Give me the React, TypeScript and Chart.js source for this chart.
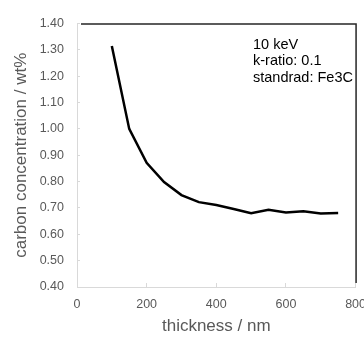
import React, { useEffect, useRef } from "react";
import { Chart, registerables } from "chart.js";

Chart.register(...registerables);

const thickness = [100, 150, 200, 250, 300, 350, 400, 450, 500, 550, 600, 650, 700, 750];
const carbon = [1.315, 1.0, 0.871, 0.798, 0.749, 0.722, 0.711, 0.696, 0.68, 0.693, 0.683, 0.687, 0.679, 0.681];
const annotationLines = ["10 keV", "k-ratio: 0.1", "standrad: Fe3C"];
const xTitle = "thickness / nm";
const yTitle = "carbon concentration / wt%";

const FONT = "'Liberation Sans', Arial, sans-serif";

const framePlugin = {
  id: "frameAndNotes",
  afterDraw(chart: any) {
    const { ctx, chartArea } = chart;
    const { left, right, top, bottom } = chartArea;
    ctx.save();
    ctx.strokeStyle = "#262626";
    ctx.lineWidth = 1.5;
    ctx.beginPath();
    ctx.moveTo(left + 4, top + 0.5);
    ctx.lineTo(right + 0.5, top + 0.5);
    ctx.lineTo(right + 0.5, bottom - 4);
    ctx.stroke();
    ctx.fillStyle = "#000";
    ctx.font = `14.5px ${FONT}`;
    ctx.textAlign = "left";
    ctx.textBaseline = "alphabetic";
    annotationLines.forEach((t, i) => {
      ctx.fillText(t, left + 176, top + 25 + i * 16.7);
    });
    ctx.restore();
  },
};

export default function App() {
  const ref = useRef<HTMLCanvasElement>(null);
  useEffect(() => {
    document.body.style.margin = "0";
    const chart = new Chart(ref.current as HTMLCanvasElement, {
      type: "line",
      data: {
        datasets: [
          {
            data: thickness.map((x, i) => ({ x, y: carbon[i] })),
            borderColor: "#000",
            borderWidth: 2.5,
            pointRadius: 0,
            tension: 0,
            fill: false,
          },
        ],
      },
      options: {
        animation: false,
        responsive: false,
        devicePixelRatio: 1,
        layout: { padding: { top: 14, right: 23, bottom: 0, left: 0 } },
        plugins: { legend: { display: false }, tooltip: { enabled: false } },
        scales: {
          x: {
            type: "linear",
            min: 0,
            max: 800,
            afterFit: (s: any) => {
              s.height = 50;
            },
            border: { color: "#d9d9d9", width: 1 },
            grid: { drawOnChartArea: false, drawTicks: true, tickLength: -4, color: "#d9d9d9" },
            ticks: {
              stepSize: 200,
              padding: 14,
              color: "#595959",
              font: { family: FONT, size: 12.5 },
              maxRotation: 0,
            },
            title: {
              display: true,
              text: xTitle,
              color: "#595959",
              font: { family: FONT, size: 17 },
              padding: { top: 0, bottom: 0 },
            },
          },
          y: {
            type: "linear",
            min: 0.4,
            max: 1.4,
            afterFit: (s: any) => {
              s.width = 77;
            },
            border: { color: "#d9d9d9", width: 1 },
            grid: { drawOnChartArea: false, drawTicks: true, tickLength: -3, color: "#d9d9d9" },
            ticks: {
              stepSize: 0.1,
              padding: 16,
              color: "#595959",
              font: { family: FONT, size: 12.5 },
              callback: (v: any) => Number(v).toFixed(2),
            },
            title: {
              display: true,
              text: yTitle,
              color: "#595959",
              font: { family: FONT, size: 17 },
              padding: { top: 11, bottom: 0 },
            },
          },
        },
      },
      plugins: [framePlugin],
    });
    return () => chart.destroy();
  }, []);
  return (
    <div
      style={{
        position: "fixed",
        left: 0,
        top: 0,
        width: 364,
        height: 337,
        overflow: "hidden",
        background: "#fff",
      }}
    >
      <canvas ref={ref} width={380} height={337} style={{ display: "block" }} />
    </div>
  );
}
